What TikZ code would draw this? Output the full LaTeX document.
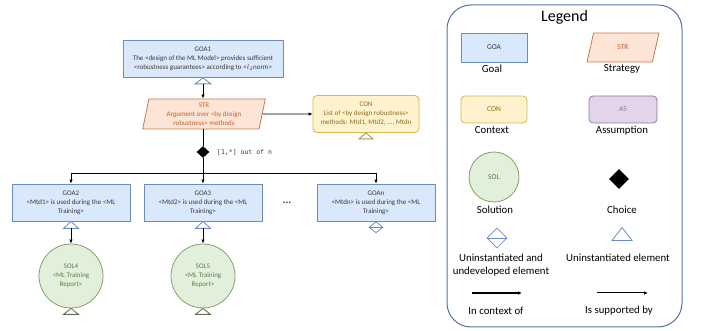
\documentclass[tikz,border=0pt]{standalone}
\usepackage{fontspec}
\setmainfont{Carlito}
\setmonofont{DejaVu Sans Mono}
\usetikzlibrary{shapes.geometric,arrows.meta}
\definecolor{goalfill}{HTML}{DAE8FC}
\definecolor{goalline}{HTML}{6C8EBF}
\definecolor{goaltext}{HTML}{3A3A3A}
\definecolor{strfill}{HTML}{FCE4D6}
\definecolor{strline}{HTML}{C9784A}
\definecolor{strtext}{HTML}{C0622F}
\definecolor{confill}{HTML}{FFF2CC}
\definecolor{conline}{HTML}{D6B656}
\definecolor{context}{HTML}{8C6D1F}
\definecolor{asfill}{HTML}{E1D5E7}
\definecolor{asline}{HTML}{9673A6}
\definecolor{solfill}{HTML}{E2EFDA}
\definecolor{solline}{HTML}{82A06E}
\definecolor{soltext}{HTML}{5A7F45}
\definecolor{frameline}{HTML}{5473A8}

\begin{document}
\begin{tikzpicture}[x=1pt,y=-1pt,>={Latex[length=4pt,width=3.5pt]},line width=0.8pt,
  small/.style={font=\fontsize{7}{9}\selectfont},
  goal/.style={small,draw=goalline,fill=goalfill,text=goaltext,minimum width=118,
    minimum height=37,align=center,inner sep=1pt},
  strategy/.style={small,trapezium,trapezium left angle=80,trapezium right angle=100,
    trapezium stretches=true,draw=strline,fill=strfill,text=strtext,minimum width=123,
    minimum height=30,align=center,inner sep=1pt},
  context/.style={small,draw=conline,fill=confill,text=context,rounded corners=4pt,
    minimum width=106,minimum height=37,align=center,inner sep=1pt},
  assumption/.style={small,draw=asline,fill=asfill,text=asline,rounded corners=4pt,
    minimum width=68,minimum height=27,align=center},
  solution/.style={small,circle,draw=solline,fill=solfill,text=soltext,minimum size=64,
    align=center,inner sep=0pt},
  choice/.style={diamond,fill=black,minimum width=13,minimum height=12,inner sep=0pt},
  undev/.style={diamond,draw=goalline,fill=white,minimum width=14,minimum height=11,inner sep=0pt},
  goaltri/.style={draw=goalline,fill=white},
  contri/.style={draw=conline!80!black,fill=white},
  soltri/.style={draw=solline!70!black,fill=white},
  legendlabel/.style={font=\fontsize{10.8}{13}\selectfont,text=black,align=center},
  legendsym/.style={font=\fontsize{7.5}{9}\selectfont}]
\useasboundingbox (0,0) rectangle (702,331);
%
\draw (203,59) node[goal,minimum width=160] (goa1)
  {GOA1\\The <design of the ML Model> provides sufficient\\<robustness guarantees> according to <$l_2$norm>};
\draw[goaltri] (goa1.south) -- ++(8,6) -- ++(-16,0) -- cycle;
\draw (goa1.south) ++ (0,6) coordinate (goa1sup);
%
\draw (goa1) ++ (1,55) node[strategy] (str) {STR\\Argument over <by design\\robustness> methods};
\path[draw,->] (goa1sup) -- (goa1sup |- str.north);
\draw (str) ++ (162,0) node[context] (con) {CON\\List of <by design robustness>\\methods: Mtd1, Mtd2, ..., Mtdn};
\path[draw,->] (str) -- (con);
\draw[contri] (con.south) -- ++(7,6) -- ++(-14,0) -- cycle;
%
\draw (goa1) ++ (0,93) node[choice] (choice) {};
\draw (choice.east) ++ (3.5,0) node[anchor=west,font=\ttfamily\fontsize{6.5}{8}\selectfont,text=goaltext] (card) {[1,*] out of n};
\path[draw] (goa1sup |- str.south) -- (choice);
%
\draw (choice) ++ (-132,50.5) node[goal] (goa2) {GOA2\\<Mtd1> is used during the <ML\\Training>};
\draw (choice) ++ (0,50.5) node[goal] (goa3) {GOA3\\<Mtd2> is used during the <ML\\Training>};
\draw (choice) ++ (173,50.5) node[goal] (goan) {GOAn\\<Mtdn> is used during the <ML\\Training>};
\path[draw,->] (choice.south) -- ++(0,15) -| (goa2.north);
\path[draw,->] (choice.south) -- ++(0,15) -| (goan.north);
\path[draw,->] (choice) -- (goa3);
\draw (goa3) ++ (84,0) node[font=\bfseries\fontsize{11}{11}\selectfont,text=goaltext] (dots) {...};
\draw (goan.south) node[undev,anchor=north] (goanud) {};
\draw[goalline] (goanud.west) -- (goanud.east);
%
\draw[goaltri] (goa2.south) -- ++(7.5,7) -- ++(-15,0) -- cycle;
\draw (goa2.south) ++ (0,7) coordinate (goa2sup);
\draw[goaltri] (goa3.south) -- ++(7.5,7) -- ++(-15,0) -- cycle;
\draw (goa3.south) ++ (0,7) coordinate (goa3sup);
\draw (goa2) ++ (0,73.5) node[solution] (sol4) {SOL4\\<ML Training\\Report>};
\draw (goa3) ++ (0,73.5) node[solution] (sol5) {SOL5\\<ML Training\\Report>};
\path[draw,->] (goa2sup) -- (sol4);
\path[draw,->] (goa3sup) -- (sol5);
\draw[soltri] (sol4.south) -- ++(7.5,6) -- ++(-15,0) -- cycle;
\draw[soltri] (sol5.south) -- ++(7.5,6) -- ++(-15,0) -- cycle;
%
% legend
\node[draw=frameline,line width=1pt,rounded corners=24pt,minimum width=235,minimum height=322] (legend) at (564.5,166) {};
\draw (legend.north) ++ (0,13) node[font=\fontsize{16}{16}\selectfont] (legendtitle) {Legend};
%
\node[goal,legendsym,minimum width=66,minimum height=29] (lgoa) at (494,47.5) {GOA};
\draw (lgoa.south) ++ (-2,6.5) node[legendlabel] (lgoalabel) {Goal};
\node[strategy,legendsym,minimum width=72,minimum height=29,trapezium left angle=78,trapezium right angle=102] (lstr) at (623,47.5) {STR};
\draw (lstr.south) ++ (-1,6.5) node[legendlabel] (lstrlabel) {Strategy};
\node[context,legendsym,minimum width=66,minimum height=27] (lcon) at (494,109.5) {CON};
\draw (lcon.south) ++ (-2,6.5) node[legendlabel] (lconlabel) {Context};
\node[assumption,legendsym] (las) at (623,109.5) {AS};
\draw (las.south) ++ (-1,7) node[legendlabel] (laslabel) {Assumption};
%
\node[solution,legendsym,minimum size=50] (lsol) at (494,177) {SOL};
\draw (lsol.south) ++ (1,7) node[legendlabel] (lsollabel) {Solution};
\node[choice,minimum width=20,minimum height=20] (lchoice) at (619,179) {};
\draw (lchoice.south) ++ (3,20) node[legendlabel] (lchoicelabel) {Choice};
%
\node[undev,minimum width=20,minimum height=20] (lundev) at (497,238) {};
\draw[goalline] (lundev.west) -- (lundev.east);
\draw (lundev.south) ++ (4,16.5) node[legendlabel] (lundevlabel) {Uninstantiated and\\undeveloped element};
\coordinate (ltri) at (622,227.5);
\draw[goaltri] (ltri) -- ++(10,13) -- ++(-20,0) -- cycle;
\draw (ltri) ++ (-4,30.5) node[legendlabel] (ltrilabel) {Uninstantiated element};
%
\coordinate (lctxa) at (472,293);
\coordinate (lctxb) at (522,293);
\path[draw,->,line width=1.3pt] (lctxa) -- (lctxb);
\draw (lctxa) ++ (24,18) node[legendlabel] (lctxlabel) {In context of};
\coordinate (lsupa) at (597,293);
\coordinate (lsupb) at (648,293);
\path[draw,->,line width=1pt] (lsupa) -- (lsupb);
\draw (lsupa) ++ (22,18) node[legendlabel] (lsuplabel) {Is supported by};
\end{tikzpicture}
\end{document}
